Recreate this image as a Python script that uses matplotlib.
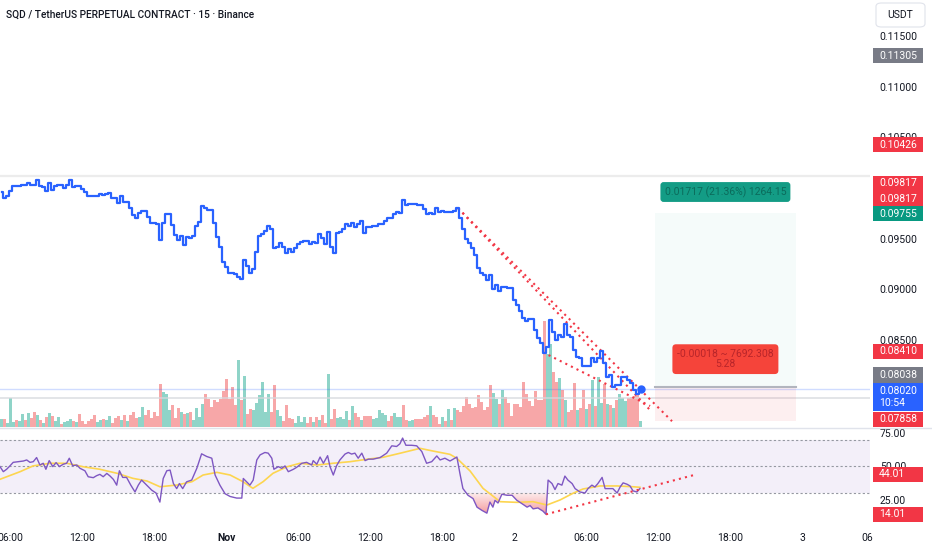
import numpy as np
import matplotlib
matplotlib.use("Agg")
import matplotlib.pyplot as plt
from matplotlib.patches import Rectangle, FancyBboxPatch
from matplotlib.path import Path
from matplotlib.colors import LinearSegmentedColormap

plt.rcParams['font.family'] = ['Roboto', 'DejaVu Sans']

# 15 minute bars, bar 0 = 31 Oct 05:15
price = [0.09964, 0.09901, 0.09921, 0.09973, 0.10023, 0.10023, 0.10023, 0.10030, 0.10030, 0.10046,
         0.10030, 0.10030, 0.10079, 0.10020, 0.10013, 0.09973, 0.10052, 0.09980, 0.10023, 0.10030,
         0.10030, 0.10003, 0.10030, 0.10079, 0.10013, 0.10020, 0.10020, 0.09987, 0.09964, 0.09921,
         0.09921, 0.09921, 0.09924, 0.09938, 0.09928, 0.09941, 0.09954, 0.09898, 0.09898, 0.09849,
         0.09924, 0.09859, 0.09859, 0.09800, 0.09734, 0.09701, 0.09750, 0.09773, 0.09773, 0.09717,
         0.09658, 0.09658, 0.09645, 0.09487, 0.09658, 0.09744, 0.09744, 0.09635, 0.09536, 0.09487,
         0.09527, 0.09438, 0.09520, 0.09504, 0.09530, 0.09625, 0.09668, 0.09822, 0.09800, 0.09783,
         0.09783, 0.09652, 0.09520, 0.09421, 0.09273, 0.09216, 0.09165, 0.09165, 0.09152, 0.09119,
         0.09100, 0.09290, 0.09231, 0.09165, 0.09201, 0.09366, 0.09527, 0.09543, 0.09579, 0.09625,
         0.09593, 0.09405, 0.09421, 0.09461, 0.09415, 0.09362, 0.09395, 0.09372, 0.09405, 0.09448,
         0.09465, 0.09477, 0.09477, 0.09448, 0.09470, 0.09455, 0.09543, 0.09504, 0.09445, 0.09569,
         0.09421, 0.09362, 0.09553, 0.09569, 0.09593, 0.09645, 0.09625, 0.09652, 0.09612, 0.09645,
         0.09675, 0.09559, 0.09612, 0.09612, 0.09625, 0.09625, 0.09642, 0.09642, 0.09675, 0.09701,
         0.09701, 0.09744, 0.09766, 0.09750, 0.09882, 0.09832, 0.09839, 0.09839, 0.09842, 0.09832,
         0.09832, 0.09790, 0.09741, 0.09750, 0.09744, 0.09800, 0.09760, 0.09773, 0.09766, 0.09766,
         0.09766, 0.09776, 0.09800, 0.09701, 0.09593, 0.09494, 0.09455, 0.09405, 0.09339, 0.09208,
         0.09159, 0.09142, 0.09093, 0.09142, 0.09001, 0.09043, 0.08987, 0.09027, 0.09021, 0.09011,
         0.09011, 0.08895, 0.08846, 0.08790, 0.08715, 0.08691, 0.08705, 0.08705, 0.08600, 0.08518,
         0.08468, 0.08376, 0.08435, 0.08698, 0.08583, 0.08501, 0.08550, 0.08534, 0.08656, 0.08550,
         0.08534, 0.08402, 0.08336, 0.08320, 0.08245, 0.08245, 0.08245, 0.08320, 0.08287, 0.08320,
         0.08395, 0.08271, 0.08139, 0.08156, 0.08040, 0.08057, 0.08057, 0.08139, 0.08139, 0.08106,
         0.08080, 0.08008, 0.07968, 0.08020]

volume = [8, 8, 4, 29, 5, 7, 6, 13, 7, 14,
          9, 15, 12, 7, 4, 10, 14, 11, 6, 10,
          3, 5, 6, 8, 6, 5, 13, 6, 3, 6,
          8, 12, 5, 7, 8, 7, 11, 4, 9, 11,
          7, 12, 6, 12, 15, 9, 10, 20, 12, 17,
          9, 15, 11, 43, 35, 33, 17, 22, 9, 19,
          15, 13, 14, 15, 7, 19, 10, 23, 33, 28,
          20, 27, 25, 28, 36, 48, 28, 40, 22, 67,
          27, 51, 13, 18, 17, 24, 32, 45, 15, 33,
          15, 42, 17, 11, 6, 22, 9, 8, 4, 11,
          5, 10, 4, 10, 5, 10, 7, 12, 4, 53,
          8, 18, 9, 10, 8, 16, 7, 21, 14, 10,
          7, 11, 11, 11, 8, 9, 17, 14, 12, 6,
          11, 14, 10, 10, 22, 7, 6, 7, 8, 8,
          8, 10, 12, 21, 12, 10, 3, 10, 6, 18,
          7, 19, 17, 15, 21, 30, 23, 19, 20, 32,
          25, 17, 20, 42, 34, 28, 23, 37, 30, 24,
          11, 23, 23, 20, 45, 33, 26, 21, 36, 27,
          27, 106, 73, 83, 55, 45, 49, 37, 27, 15,
          17, 44, 17, 19, 37, 18, 23, 47, 21, 50,
          24, 43, 23, 22, 19, 27, 33, 29, 26, 29,
          30, 31, 32, 6]

vol_side = ("grgggrggrg" "rrgrgrgrgg" "rgggrgrrrr" "rrggrggrrr" "grgrrrggrr"
            "rrrrgggrrr" "grgrggggrr" "rrrrrrrrrg" "rgrrgggggg" "rrggrrrrgg"
            "ggrrgrgrrg" "rrggggrgrr" "grrrgggggr" "rgggrrggrr" "rrrgrrrgrg"
            "rgrrrrrrrr" "rrrrggrgrr" "rrrrrrrrrr" "rrggrrgrgr" "rrgrrgrgrg"
            "grgrgrgggr" "rrrg")

rsi_pos = [-0.5, 0.6, 1.7, 2.8, 3.9, 5.6, 7.3, 8.4, 9.5, 10.6, 11.7, 12.8, 13.9, 14.8, 15.9,
           17.1, 18.2, 19.3, 20.6, 21.7, 22.6, 23.7, 25.1, 26.2, 27.8, 28.9, 30.6, 31.7, 32.8,
           33.9, 35.1, 36.2, 37.3, 38.4, 39.3, 40.4, 41.7, 43.1, 44.5, 45.6, 46.7, 48.4, 50.1,
           51.5, 52.8, 53.9, 55.1, 56.2, 57.3, 58.4, 59.3, 60.4, 61.7, 63.4, 65.1, 66.7, 68.4,
           70.1, 71.2, 72.8, 74.5, 76.2, 78.4, 80.1, 80.6, 81.7, 82.8, 83.9, 85.1, 86.2, 87.8,
           88.9, 90.1, 90.8, 92.3, 93.4, 94.5, 95.6, 97.3, 98.4, 100.1, 101.7, 103.4, 103.9,
           105.1, 106.2, 107.3, 108.7, 109.5, 110.6, 111.7, 112.8, 114.5, 115.6, 116.7, 117.8,
           118.9, 120.1, 121.2, 122.3, 123.9, 126.2, 128.4, 130.1, 131.7, 132.8, 133.7, 134.8,
           136.7, 138.4, 140.1, 141.7, 143.4, 145.1, 146.2, 147.8, 149.5, 151.8, 152.8, 153.8,
           155.5, 157.2, 158.5, 160.2, 161.8, 162.8, 163.8, 164.5, 165.5, 166.8, 168.5, 170.2,
           171.8, 173.5, 175.2, 176.2, 177.2, 178.8, 180.5, 181.5, 182.2, 183.5, 184.5, 185.5,
           186.8, 187.8, 188.8, 190.2, 191.2, 192.8, 194.5, 195.5, 196.8, 197.8, 198.8, 200.2,
           201.2, 202.2, 203.8, 205.2, 206.2, 207.2, 208.5, 209.5, 210.5, 211.8, 212.8]
rsi_val = [49.8, 46.0, 47.8, 50.3, 53.0, 53.5, 54.0, 54.8, 53.0, 53.5, 56.6, 51.0, 52.3, 47.8, 54.3,
           49.8, 52.8, 49.8, 51.6, 52.3, 56.1, 50.5, 51.0, 48.5, 46.7, 42.2, 41.5, 43.0, 44.0,
           42.2, 44.7, 42.7, 40.2, 35.9, 46.7, 41.7, 41.7, 35.9, 30.8, 35.9, 39.7, 35.9, 32.1,
           30.0, 23.2, 40.9, 46.7, 47.2, 37.1, 33.3, 37.1, 33.3, 38.4, 39.7, 48.5, 59.4, 57.4,
           56.1, 43.5, 35.9, 29.5, 27.4, 26.2, 26.2, 40.9, 38.4, 35.9, 39.7, 54.8, 58.6, 60.4,
           59.9, 56.1, 47.8, 49.8, 48.5, 50.3, 46.0, 47.8, 49.3, 52.3, 53.0, 51.0, 54.3,
           51.6, 57.0, 52.3, 58.0, 49.8, 43.5, 50.5, 54.8, 59.2, 60.4, 59.2, 59.9,
           56.1, 59.9, 54.3, 55.4, 55.4, 56.6, 59.9, 65.4, 64.9, 66.9, 71.2, 65.8,
           65.8, 65.4, 61.1, 52.3, 53.5, 57.8, 54.8, 56.1, 54.0, 57.0, 44.7, 33.4,
           28.3, 25.8, 19.4, 16.9, 14.9, 23.2, 19.4, 24.5, 22.5, 29.1, 28.3, 28.3,
           24.5, 22.0, 19.4, 20.6, 18.1, 18.8, 16.4, 14.01, 39.7, 37.1, 32.6, 37.1,
           35.9, 42.7, 39.7, 37.1, 33.3, 30.8, 30.0, 33.3, 35.9, 34.5, 37.1, 41.7,
           33.3, 33.3, 33.3, 30.0, 34.5, 37.6, 36.6, 35.3, 31.6, 30.8, 33.3]

rsi_ma_pos = [-0.5, 6.2, 10.5, 16.2, 21.8, 27.2, 32.8, 38.5, 43.8, 48.5, 52.8, 58.5, 63.5, 67.2,
              71.8, 76.2, 80.5, 83.8, 87.2, 90.5, 95.2, 99.5, 105.2, 110.5, 116.2, 121.8, 127.2,
              132.8, 139.5, 143.8, 149.5, 151.8, 156.2, 160.5, 166.2, 171.8, 177.2, 181.8,
              186.2, 190.5, 193.8, 199.5, 205.2, 210.5, 212.8]
rsi_ma = [40.3, 46.0, 50.3, 52.3, 52.3, 49.7, 47.8, 44.8, 41.0, 39.0, 34.7, 36.0, 38.5, 43.5,
          45.5, 43.5, 38.5, 33.5, 38.5, 44.8, 49.7, 52.3, 51.0, 52.3, 53.5, 55.3, 56.8,
          59.8, 63.5, 61.5, 59.0, 56.0, 46.5, 33.5, 23.5, 23.0, 23.5, 21.0,
          24.8, 29.8, 33.0, 35.3, 35.3, 34.7, 34.3]

# x tick labels (bar index of each time)
tick_pos = [3, 27, 51, 75, 99, 123, 147, 171, 195, 219, 243, 267, 288.7]
tick_lab = ["06:00", "12:00", "18:00", "Nov", "06:00", "12:00", "18:00", "2",
            "06:00", "12:00", "18:00", "3", "06"]

# drawings
trend_a = ([152.2, 223.5], [0.0980, 0.0770])
trend_b = ([152.2, 216.2], [0.0980, 0.0781])
trend_c = ([180.5, 216.2], [0.0838, 0.0785])
rsi_trend = ([181.5, 231.7], [14.01, 44.01])
pos_left, pos_right = 217.8, 264.8
target, entry, stop = 0.09755, 0.08038, 0.0770
last_price = 0.08020

W, H = 932, 550
fig = plt.figure(figsize=(W / 100, H / 100), dpi=100, facecolor='white')

def fx(px):
    return px / W

def fy(py):
    return 1 - py / H

main_rect = [0, fy(428), fx(870), 428 / H]
ax_vol = fig.add_axes(main_rect)
ax = fig.add_axes(main_rect)
ax.patch.set_visible(False)
ax_rsi = fig.add_axes([0, fy(526), fx(870), 98 / H])

bars = np.arange(len(price))
xlim = (-0.5, 289.5)

# volume
vcol = ['#8fd4c8' if s == 'g' else '#f7a7a8' for s in vol_side]
ax_vol.bar(bars, volume, width=0.72, color=vcol, linewidth=0)
ax_vol.set_xlim(*xlim)
ax_vol.set_ylim(-1.3, 426.7)
ax_vol.axis('off')

# price
ax.set_xlim(*xlim)
ax.set_ylim(0.076331, 0.118541)
ax.axhline(0.10118, color='#ececec', lw=1.6, zorder=1)
ax.axhline(last_price, color='#2962ff', alpha=0.22, lw=1, zorder=1)
ax.axhline(0.0793, color='#d6d8dd', alpha=0.8, lw=1.2, zorder=1)

ax.add_patch(Rectangle((pos_left, entry), pos_right - pos_left, target - entry,
                       color='#089981', alpha=0.04, lw=0))
ax.add_patch(Rectangle((pos_left, stop), pos_right - pos_left, entry - stop,
                       color='#f23645', alpha=0.08, lw=0))
ax.plot([pos_left, pos_right], [entry, entry], color='#b2b5be', lw=1.5)

ax.plot(bars, price, drawstyle='steps-mid', color='#2962ff', lw=1.6, zorder=4)
ax.plot(bars[-1], price[-1], 'o', color='#2962ff', ms=5, zorder=5)

for tx, ty in (trend_a, trend_b, trend_c):
    ax.plot(tx, ty, color='#f23645', lw=1.5, linestyle=(0, (1, 2)), zorder=3)

mid = (pos_left + pos_right) / 2
ax.annotate("0.01717 (21.36%) 1264.15", xy=(mid, target), xytext=(0, 15),
            textcoords='offset points', ha='center', va='center', fontsize=7.5,
            color='#0b6b5b',
            bbox=dict(boxstyle='round,pad=0.4,rounding_size=0.3', fc='#139c85', ec='none'))
ax.annotate("-0.00018 ~ 7692.308\n5.28", xy=(mid, entry), xytext=(0, 20),
            textcoords='offset points', ha='center', va='center', fontsize=7.5,
            color='#b8252a', linespacing=1.05,
            bbox=dict(boxstyle='round,pad=0.45,rounding_size=0.35', fc='#f5443a', ec='none'))

ax.yaxis.tick_right()
ax.set_yticks([0.085, 0.090, 0.095, 0.100, 0.105, 0.110, 0.115])
ax.set_yticklabels([f"{v:.5f}" for v in ax.get_yticks()])
ax.tick_params(axis='y', length=0, pad=7, labelsize=7.5, labelcolor='#131722')
ax.tick_params(axis='x', bottom=False, labelbottom=False)
for s in ax.spines.values():
    s.set_visible(False)

# RSI
ax_rsi.set_xlim(*xlim)
ax_rsi.set_ylim(5.26, 78.76)
ax_rsi.axhspan(30, 70, color='#7e57c2', alpha=0.09, lw=0)
for lvl in (70, 50, 30):
    ax_rsi.axhline(lvl, color='#9598a1', lw=0.8, linestyle=(0, (2, 2)))

rv = np.array(rsi_val)
low = ax_rsi.fill_between(rsi_pos, rv, 30, where=rv < 30, interpolate=True, color='none')
clip = Path.make_compound_path(*low.get_paths())
grad = np.linspace(0, 1, 100).reshape(-1, 1)
cmap = LinearSegmentedColormap.from_list('os', ['#f38e92', '#fdecec'])
im = ax_rsi.imshow(grad, extent=[140, 190, 12, 30], origin='lower', aspect='auto',
                   cmap=cmap, zorder=1)
im.set_clip_path(clip, transform=ax_rsi.transData)
ax_rsi.fill_between(rsi_pos, rv, 70, where=rv > 70, interpolate=True,
                    color='#8fd4c8', alpha=0.7, lw=0)

ax_rsi.plot(rsi_ma_pos, rsi_ma, color='#fdd54f', lw=1.2, zorder=3)
ax_rsi.plot(rsi_pos, rsi_val, color='#7e57c2', lw=1.0, zorder=4)
ax_rsi.plot(*rsi_trend, color='#f23645', lw=1.5, linestyle=(0, (1, 2)), zorder=5)
ax_rsi.set_xlim(*xlim)
ax_rsi.set_ylim(5.26, 78.76)

ax_rsi.yaxis.tick_right()
ax_rsi.set_yticks([25, 50, 75])
ax_rsi.set_yticklabels(["25.00", "50.00", "75.00"])
ax_rsi.tick_params(axis='y', length=0, pad=7, labelsize=7.5, labelcolor='#131722')
ax_rsi.set_xticks(tick_pos)
ax_rsi.set_xticklabels(tick_lab)
ax_rsi.tick_params(axis='x', length=0, pad=5, labelsize=7.5, labelcolor='#131722')
for lab in ax_rsi.get_xticklabels():
    if lab.get_text() == "Nov":
        lab.set_fontweight('bold')
for s in ax_rsi.spines.values():
    s.set_visible(False)

# pane separator
fig.add_artist(plt.Line2D([0, 1], [fy(428), fy(428)], color='#e0e3eb', lw=1))

# price scale tags
def tag(axis, value, text, color, dy=0.0, h=15.3, tcolor='white'):
    ypix = H - axis.transData.transform((0, value))[1] + dy
    fig.add_artist(Rectangle((fx(873), fy(ypix + h / 2)), 50 / W, h / H,
                             transform=fig.transFigure, color=color, lw=0, zorder=10))
    fig.text(fx(879), fy(ypix), text, color=tcolor, fontsize=7.5, ha='left',
             va='center', zorder=11)

tag(ax, 0.11305, "0.11305", '#787b86')
tag(ax, 0.10426, "0.10426", '#f23645')
tag(ax, 0.09817, "0.09817", '#f23645', dy=-23.3)
tag(ax, 0.09817, "0.09817", '#f23645', dy=-8.0)
tag(ax, 0.09755, "0.09755", '#089981', dy=0.7)
tag(ax, 0.08410, "0.08410", '#f23645', dy=2)
tag(ax, 0.08038, "0.08038", '#787b86', dy=-12)
tag(ax, 0.07858, "0.07858", '#f23645', dy=14)
tag(ax_rsi, 44.01, "44.01", '#f23645')
tag(ax_rsi, 14.01, "14.01", '#f23645')

# last price tag with countdown
ylast = H - ax.transData.transform((0, last_price))[1]
fig.add_artist(Rectangle((fx(873), fy(ylast + 22)), 50 / W, 28 / H,
                         transform=fig.transFigure, color='#2962ff', lw=0, zorder=12))
fig.text(fx(879), fy(ylast + 2), "0.08020", color='white', fontsize=7.5, va='center', zorder=13)
fig.text(fx(879), fy(ylast + 14.5), "10:54", color='white', fontsize=7.5, va='center', zorder=13)

# currency button
fig.add_artist(FancyBboxPatch((fx(876), fy(27)), 49 / W, 24 / H,
                              boxstyle='round,pad=0,rounding_size=0.006',
                              transform=fig.transFigure, fc='white', ec='#e0e3eb', lw=0.8))
fig.text(fx(900.5), fy(15), "USDT", fontsize=7.5, ha='center', va='center', color='#131722')

fig.text(fx(6), fy(15), "SQD / TetherUS PERPETUAL CONTRACT · 15 · Binance",
         fontsize=7.3, ha='left', va='center', color='#131722', fontweight='medium')

fig.savefig("out.png", dpi=100, facecolor='white')
